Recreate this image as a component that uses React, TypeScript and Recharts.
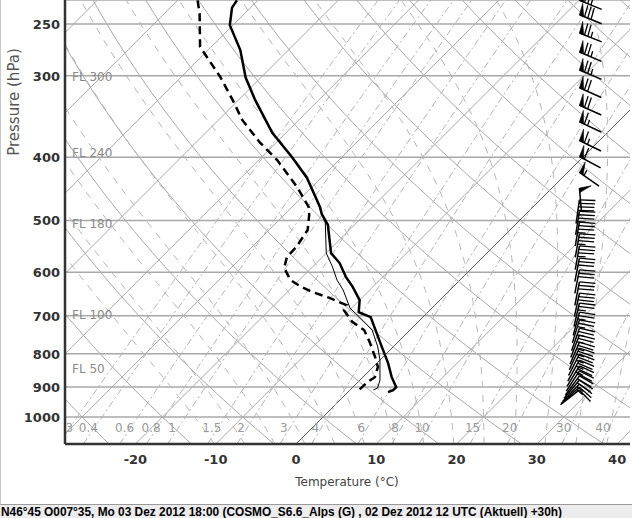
import React from "react";
import { ComposedChart, Line, Scatter, XAxis, YAxis, CartesianGrid } from "recharts";

// diagram geometry (skew-T / log-p)
const P_BOTTOM = 1100;
const P_TOP = 229.7;
const SKEW = 35.3; // °C of isotherm shift per unit of ln(p)
const X_MIN = -28.77;
const X_MAX = 41.6;

const pressureTicks = [250, 300, 400, 500, 600, 700, 800, 900, 1000];
const temperatureTicks = [-20, -10, 0, 10, 20, 30, 40];

// sounding (hPa / °C)
const tempPressure = [230, 236, 251, 274, 302, 327, 367, 400, 430, 477, 489, 508, 561, 581, 610, 632, 662, 691, 703, 781, 827, 869, 900, 910, 916];
const tempValue = [-62.6, -62.3, -60.4, -56.0, -51.9, -47.9, -41.7, -36.2, -31.8, -26.5, -25.4, -23.3, -19.4, -17.1, -14.6, -12.5, -10.0, -8.6, -6.5, -1.4, 1.4, 3.6, 5.4, 5.4, 5.0];

const dewPressure = [230, 241, 271, 301, 327, 351, 380, 404, 444, 477, 490, 517, 549, 569, 591, 617, 632, 643, 657, 674, 686, 715, 736, 768, 809, 838, 869, 884, 916];
const dewValue = [-67.5, -65.6, -61.4, -55.2, -50.7, -47.0, -42.0, -37.7, -31.9, -27.9, -26.9, -25.2, -24.5, -24.4, -23.4, -21.1, -18.9, -17.0, -14.0, -11.0, -10.7, -8.2, -5.7, -3.5, -1.0, 0.6, 1.5, 1.2, 1.1];

const parcelPressure = [480, 504, 561, 589, 617, 639, 681, 703, 736, 781, 818, 878, 903, 909];
const parcelValue = [-26.3, -23.9, -20.0, -17.5, -15.3, -13.3, -10.2, -7.9, -4.7, -1.9, 0.0, 2.5, 3.2, 2.9];

// background families
const isotherms = [-100, -90, -80, -70, -60, -50, -40, -30, -20, -10, 0, 10, 20, 30, 40];
const dryAdiabats = [-40, -30, -20, -10, 0, 10, 20, 30, 40, 50, 60, 70, 80, 90, 100, 110, 120, 130];
const moistAdiabats = [-16, -12, -8, -4, 0, 4, 8, 12, 16, 20, 24, 28, 32, 36];
const mixingRatios = [0.3, 0.4, 0.6, 0.8, 1, 1.5, 2, 3, 4, 6, 8, 10, 15, 20, 30, 40];
const mixingLabels = ["0.3", "0.4", "0.6", "0.8", "1", "1.5", "2", "3", "4", "6", "8", "10", "15", "20", "30", "40"];
const flightLevels = ["FL 300", "FL 240", "FL 180", "FL 100", "FL 50"];
const flightLevelPressure = [300.9, 392.7, 505.8, 696.8, 843.1];

// wind (hPa, from-direction °, kt)
const windPressure = [230, 242, 258, 276, 294, 313, 333, 353, 377, 399, 422, 446, 465, 484, 503, 524, 547, 571, 595, 621, 646, 669, 691, 710, 731, 749, 768, 784, 801, 818, 835, 850, 865, 878, 890, 900, 909];
const windDirection = [292, 292, 292, 293, 293, 294, 294, 295, 296, 298, 305, 355, 8, 9, 10, 10, 10, 11, 11, 11, 12, 13, 15, 17, 19, 21, 23, 25, 27, 29, 31, 33, 36, 40, 44, 48, 52];
const windSpeed = [80, 80, 75, 75, 75, 70, 70, 65, 65, 60, 55, 50, 40, 35, 35, 35, 35, 30, 30, 30, 30, 25, 25, 25, 25, 25, 25, 25, 25, 25, 25, 20, 20, 20, 15, 15, 10];

const BARB_X = 35.3;

const skew = (t: number, p: number) => t + SKEW * Math.log(P_BOTTOM / p);
const lnp = (p: number) => Math.log(p);

const levels = (step: number) => {
  const out: number[] = [];
  for (let p = P_BOTTOM; p >= 220; p -= step) out.push(p);
  return out;
};

const dewFromMixing = (w: number, p: number) => {
  const e = (w * p) / (622 + w);
  const l = Math.log(e / 6.112);
  return (243.5 * l) / (17.67 - l);
};

const moistRate = (T: number, p: number) => {
  const tc = T - 273.15;
  const es = 6.112 * Math.exp((17.67 * tc) / (tc + 243.5));
  const rs = (0.622 * es) / (p - es);
  const lv = 2.501e6;
  return (287.04 * T + lv * rs) / (p * (1005.7 + (lv * lv * rs * 0.622) / (287.04 * T * T)));
};

const moistCurve = (tw: number) => {
  const up: { p: number; t: number }[] = [];
  let T = tw + 273.15;
  for (let p = 1000; p >= 220; p -= 5) {
    up.push({ p, t: T - 273.15 });
    const k1 = moistRate(T, p);
    const k2 = moistRate(T - 2.5 * k1, p - 2.5);
    T -= 5 * k2;
  }
  T = tw + 273.15;
  const down: { p: number; t: number }[] = [];
  for (let p = 1000; p <= P_BOTTOM; p += 5) {
    down.push({ p, t: T - 273.15 });
    const k1 = moistRate(T, p);
    const k2 = moistRate(T + 2.5 * k1, p + 2.5);
    T += 5 * k2;
  }
  const pts = [...down.reverse(), ...up.slice(1)];
  return pts.map((d) => ({ x: skew(d.t, d.p), lp: lnp(d.p) }));
};

const isoData = isotherms.map((t) => ({
  t,
  pts: [P_BOTTOM, P_TOP].map((p) => ({ x: skew(t, p), lp: lnp(p) })),
}));
const dryData = dryAdiabats.map((th) =>
  levels(20).map((p) => ({ x: skew((th + 273.15) * Math.pow(p / 1000, 0.2857) - 273.15, p), lp: lnp(p) }))
);
const moistData = moistAdiabats.map(moistCurve);
const mixData = mixingRatios.map((w) => levels(20).map((p) => ({ x: skew(dewFromMixing(w, p), p), lp: lnp(p) })));
const mixLabelData = mixingRatios.map((w, i) => ({ x: skew(dewFromMixing(w, 1039.6), 1039.6), lp: lnp(1039.6), label: mixingLabels[i] }));
const flData = flightLevels.map((label, i) => ({ x: X_MIN, lp: lnp(flightLevelPressure[i]), label }));

const tempData = tempPressure.map((p, i) => ({ x: skew(tempValue[i], p), lp: lnp(p) }));
const dewData = dewPressure.map((p, i) => ({ x: skew(dewValue[i], p), lp: lnp(p) }));
const parcelData = parcelPressure.map((p, i) => ({ x: skew(parcelValue[i], p), lp: lnp(p) }));
const windData = windPressure.map((p, i) => ({ x: BARB_X, lp: lnp(p), dir: windDirection[i], spd: windSpeed[i] }));

const FONT = "'DejaVu Sans', Verdana, sans-serif";

// barb anchored at its feathered (upwind) end
// eslint-disable-next-line @typescript-eslint/no-explicit-any
function WindBarb(props: any) {
  const { cx, cy, payload } = props;
  if (cx == null || cy == null) return null;
  const L = 24;
  const FL = payload.spd >= 50 ? 12 : 16;
  const rad = (payload.dir * Math.PI) / 180;
  const ux = Math.sin(rad);
  const uy = -Math.cos(rad);
  const rx = -uy;
  const ry = ux;
  const a = (84 * Math.PI) / 180;
  const fx = Math.cos(a) * ux + Math.sin(a) * rx;
  const fy = Math.cos(a) * uy + Math.sin(a) * ry;
  const endX = cx - ux * L;
  const endY = cy - uy * L;
  const parts: React.ReactNode[] = [];
  let s = 0;
  let v = Math.round(payload.spd / 5) * 5;
  let k = 0;
  while (v >= 50) {
    const p0x = cx - ux * s;
    const p0y = cy - uy * s;
    const p1x = cx - ux * (s + 4.5);
    const p1y = cy - uy * (s + 4.5);
    parts.push(
      <polygon key={k++} points={`${p0x},${p0y} ${p0x + fx * FL},${p0y + fy * FL} ${p1x},${p1y}`} fill="#000" stroke="#000" strokeWidth={0.6} />
    );
    s += 5.5;
    v -= 50;
  }
  while (v >= 10) {
    const p0x = cx - ux * s;
    const p0y = cy - uy * s;
    parts.push(<line key={k++} x1={p0x} y1={p0y} x2={p0x + fx * FL} y2={p0y + fy * FL} stroke="#000" strokeWidth={1.3} />);
    s += 3.5;
    v -= 10;
  }
  if (v >= 5) {
    if (s === 0) s = 3.5;
    const p0x = cx - ux * s;
    const p0y = cy - uy * s;
    parts.push(<line key={k++} x1={p0x} y1={p0y} x2={p0x + (fx * FL) / 2} y2={p0y + (fy * FL) / 2} stroke="#000" strokeWidth={1.3} />);
  }
  return (
    <g>
      <line x1={cx} y1={cy} x2={endX} y2={endY} stroke="#000" strokeWidth={1.5} />
      {parts}
    </g>
  );
}

// eslint-disable-next-line @typescript-eslint/no-explicit-any
function FlLabel(props: any) {
  const { cx, cy, payload } = props;
  return (
    <text x={cx + 7} y={cy + 4.5} fill="#8a8a8a" fontSize={12} fontFamily={FONT}>
      {payload.label}
    </text>
  );
}

// eslint-disable-next-line @typescript-eslint/no-explicit-any
function MixLabel(props: any) {
  const { cx, cy, payload } = props;
  return (
    <text x={cx - 6} y={cy + 4.5} fill="#9a9a9a" fontSize={12} fontFamily={FONT} textAnchor="middle">
      {payload.label}
    </text>
  );
}

// eslint-disable-next-line @typescript-eslint/no-explicit-any
function XTick(props: any) {
  const { x, payload } = props;
  return (
    <text x={x} y={464} textAnchor="middle" fill="#333" fontSize={13} fontWeight="bold" fontFamily={FONT}>
      {payload.value}
    </text>
  );
}

// eslint-disable-next-line @typescript-eslint/no-explicit-any
function YTick(props: any) {
  const { y, payload } = props;
  return (
    <text x={60} y={y + 5} textAnchor="end" fill="#333" fontSize={13} fontWeight="bold" fontFamily={FONT}>
      {Math.round(Math.exp(payload.value))}
    </text>
  );
}

const bg = { dot: false as const, isAnimationActive: false, type: "linear" as const, dataKey: "lp", activeDot: false as const };

export default function App() {
  return (
    <div style={{ position: "relative", width: 632, height: 518, background: "#fff", overflow: "hidden" }}>
      <style>{"body{margin:0}"}</style>
      <div style={{ position: "absolute", left: 0, top: 0, width: 631, height: 504, borderLeft: "1px solid #c8c8c8", borderBottom: "1px solid #9a9a9a" }} />
      <div style={{ position: "absolute", left: 0 }}>
        <ComposedChart width={632} height={505} margin={{ top: 0, right: 2, bottom: 0, left: 5 }}>
          <XAxis
            dataKey="x"
            type="number"
            domain={[X_MIN, X_MAX]}
            allowDataOverflow
            ticks={temperatureTicks}
            interval={0}
            height={61}
            tickLine={false}
            axisLine={{ stroke: "#333", strokeWidth: 2.5 }}
            tick={<XTick />}
          />
          <YAxis
            dataKey="lp"
            type="number"
            domain={[lnp(P_TOP), lnp(P_BOTTOM)]}
            reversed
            allowDataOverflow
            ticks={pressureTicks.map(lnp)}
            interval={0}
            width={60}
            tickLine={false}
            axisLine={{ stroke: "#333", strokeWidth: 2.5 }}
            tick={<YTick />}
          />
          <CartesianGrid vertical={false} stroke="#a8a8a8" strokeWidth={1.5} />
          {isoData.map((d) => (
            <Line key={"iso" + d.t} {...bg} data={d.pts} stroke={d.t === 0 ? "#555" : "#a8a8a8"} strokeWidth={1} />
          ))}
          {dryData.map((d, i) => (
            <Line key={"dry" + i} {...bg} data={d} stroke="#a8a8a8" strokeWidth={1} />
          ))}
          {moistData.map((d, i) => (
            <Line key={"moist" + i} {...bg} data={d} stroke="#b4b4b4" strokeWidth={1} strokeDasharray="7 7" />
          ))}
          {mixData.map((d, i) => (
            <Line key={"mix" + i} {...bg} data={d} stroke="#b4b4b4" strokeWidth={1} strokeDasharray="7 3 2 3" />
          ))}
          <Scatter data={mixLabelData} shape={<MixLabel />} isAnimationActive={false} />
          <Scatter data={flData} shape={<FlLabel />} isAnimationActive={false} />
          <Line {...bg} data={parcelData} stroke="#000" strokeWidth={1} />
          <Line {...bg} data={dewData} stroke="#000" strokeWidth={2.5} strokeDasharray="8 5" />
          <Line {...bg} data={tempData} stroke="#000" strokeWidth={2.5} />
          <Scatter data={windData} shape={<WindBarb />} isAnimationActive={false} />
        </ComposedChart>
      </div>
      <svg style={{ position: "absolute", left: 0, top: 0 }} width={632} height={505}>
        <text x={14} y={102} transform="rotate(-90 14 102)" textAnchor="middle" dominantBaseline="central" fill="#555" fontSize={15} fontFamily={FONT}>
          Pressure (hPa)
        </text>
        <text x={347} y={486} textAnchor="middle" fill="#444" fontSize={12} fontFamily={FONT}>
          Temperature (°C)
        </text>
      </svg>
      <div style={{ position: "absolute", left: 0, top: 505, width: 632, height: 13, background: "#ececec" }}>
        <svg width={632} height={13} style={{ display: "block" }}>
          <text x={1} y={10.5} fill="#000" fontSize={12} fontWeight="bold" fontFamily="'Liberation Sans', Arial, sans-serif" textLength={561} lengthAdjust="spacingAndGlyphs">
            N46°45 O007°35, Mo 03 Dez 2012 18:00 (COSMO_S6.6_Alps (G) , 02 Dez 2012 12 UTC (Aktuell) +30h)
          </text>
        </svg>
      </div>
    </div>
  );
}
